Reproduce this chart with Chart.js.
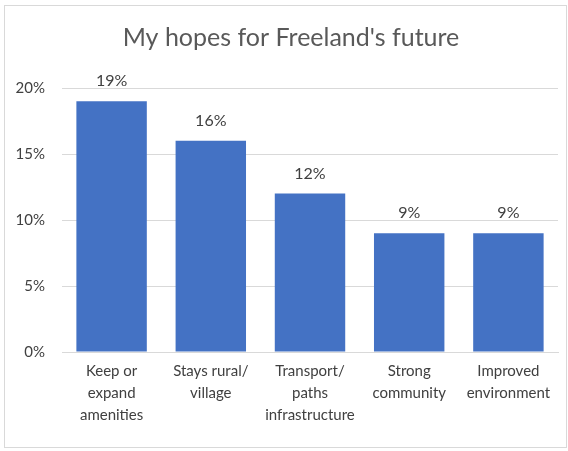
<!DOCTYPE html>
<html>
<head>
<meta charset="utf-8">
<script src="https://cdn.jsdelivr.net/npm/chart.js@4"></script>
<style>
  body { margin: 0; background: #fff; }
  #frame { position: absolute; left: 4px; top: 5px; width: 561px; height: 441px; border: 1px solid #d9d9d9; }
  #wrap { position: absolute; left: 0; top: 0; width: 568px; height: 451px; }
</style>
</head>
<body>
<div id="frame"></div>
<div id="wrap"><canvas id="chart" width="568" height="451"></canvas></div>
<script>
// categories and values
const categories = [
  ['Keep or', 'expand', 'amenities'],
  ['Stays rural/', 'village'],
  ['Transport/', 'paths', 'infrastructure'],
  ['Strong', 'community'],
  ['Improved', 'environment']
];
const hopes = [19, 16, 12, 9, 9];
const yTicks = [0, 5, 10, 15, 20];
const chartTitle = "My hopes for Freeland's future";

const FONT = 'Lato, "DejaVu Sans", sans-serif';

// title + value labels on top of bars
const extras = {
  id: 'extras',
  afterDraw(chart) {
    const ctx = chart.ctx;
    ctx.save();
    ctx.fillStyle = '#595959';
    ctx.font = '25px ' + FONT;
    ctx.textAlign = 'center';
    ctx.textBaseline = 'middle';
    ctx.fillText(chartTitle, 291, 38);

    ctx.fillStyle = '#404040';
    ctx.font = '16px ' + FONT;
    const meta = chart.getDatasetMeta(0);
    meta.data.forEach((bar, i) => {
      ctx.fillText(hopes[i] + '%', bar.x, bar.y - 20);
    });
    ctx.restore();
  }
};

new Chart(document.getElementById('chart'), {
  type: 'bar',
  data: {
    labels: categories,
    datasets: [{
      data: hopes,
      backgroundColor: '#4472c4',
      categoryPercentage: 0.71,
      barPercentage: 1.0
    }]
  },
  options: {
    responsive: false,
    animation: false,
    layout: { padding: { top: 88, right: 10, left: 0, bottom: 0 } },
    plugins: { legend: { display: false }, tooltip: { enabled: false } },
    scales: {
      y: {
        min: 0, max: 20,
        afterBuildTicks(axis) { axis.ticks = yTicks.map(v => ({ value: v })); },
        afterFit(axis) { axis.width = 62; },
        ticks: {
          callback: v => v + '%',
          color: '#404040',
          font: { size: 15, family: FONT },
          padding: 17
        },
        grid: { color: '#d9d9d9', drawTicks: false },
        border: { display: false }
      },
      x: {
        afterFit(axis) { axis.height = 99; },
        ticks: {
          color: '#404040',
          font: { size: 15, family: FONT, lineHeight: 1.47 },
          padding: 8,
          maxRotation: 0,
          autoSkip: false
        },
        grid: { display: false, drawTicks: false },
        border: { color: '#d9d9d9' }
      }
    }
  },
  plugins: [extras]
});
</script>
</body>
</html>
